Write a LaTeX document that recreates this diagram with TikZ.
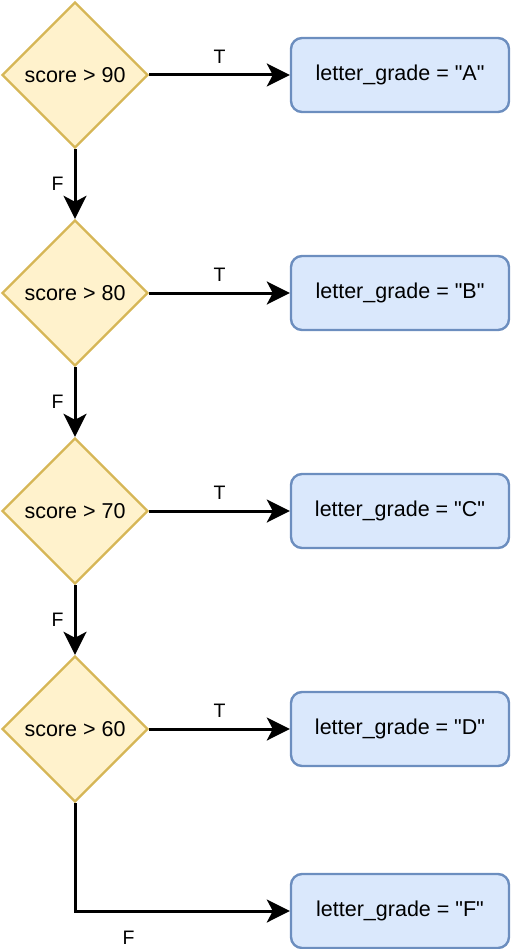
\documentclass[tikz,border=0pt]{standalone}
\usepackage{fontspec}
\setmainfont{Liberation Sans}
\usetikzlibrary{shapes.geometric,arrows.meta}
\definecolor{decfill}{HTML}{FFF2CC}
\definecolor{decdraw}{HTML}{D6B656}
\definecolor{gradefill}{HTML}{DAE8FC}
\definecolor{gradedraw}{HTML}{6C8EBF}

\begin{document}
\begin{tikzpicture}[x=1pt,y=-1pt,
  decision/.style={diamond, draw=decdraw, fill=decfill, line width=2.4pt,
    minimum width=146pt, minimum height=146pt, inner sep=0pt,
    font=\fontsize{21.5}{26}\selectfont},
  grade/.style={rectangle, rounded corners=11pt, draw=gradedraw, fill=gradefill,
    line width=2.4pt, minimum width=218pt, minimum height=74pt,
    font=\fontsize{21.5}{26}\selectfont},
  flow/.style={line width=3pt, -{Stealth[length=23pt,width=23pt,inset=6pt]}},
  lbl/.style={inner sep=10pt, font=\fontsize{19.5}{22}\selectfont}]

\useasboundingbox (0,0) rectangle (511,949);

%decisions
\node[decision] (d90) at (75,75)  {score > 90};
\node[decision] (d80) at (75,293) {score > 80};
\node[decision] (d70) at (75,511) {score > 70};
\node[decision] (d60) at (75,729) {score > 60};
%
\node[grade] (gA) at (400,75)  {letter\_grade = \textquotedbl A\textquotedbl};
\node[grade] (gB) at (400,293) {letter\_grade = \textquotedbl B\textquotedbl};
\node[grade] (gC) at (400,511) {letter\_grade = \textquotedbl C\textquotedbl};
\node[grade] (gD) at (400,729) {letter\_grade = \textquotedbl D\textquotedbl};
\node[grade] (gF) at (400,911) {letter\_grade = \textquotedbl F\textquotedbl};
%
\coordinate (c60) at (d60.south |- gF.west);

%true branches
\draw[flow] (d90.east) -- node[lbl, midway, above] {T} (gA.west);
\draw[flow] (d80.east) -- node[lbl, midway, above] {T} (gB.west);
\draw[flow] (d70.east) -- node[lbl, midway, above] {T} (gC.west);
\draw[flow] (d60.east) -- node[lbl, midway, above] {T} (gD.west);

%false branches
\draw[flow] (d90.south) -- node[lbl, midway, left] {F} (d80.north);
\draw[flow] (d80.south) -- node[lbl, midway, left] {F} (d70.north);
\draw[flow] (d70.south) -- node[lbl, midway, left] {F} (d60.north);
\draw[flow] (d60.south) -- (c60) -- node[lbl, pos=0.25, below, yshift=-9pt] {F} (gF.west);

\end{tikzpicture}
\end{document}
